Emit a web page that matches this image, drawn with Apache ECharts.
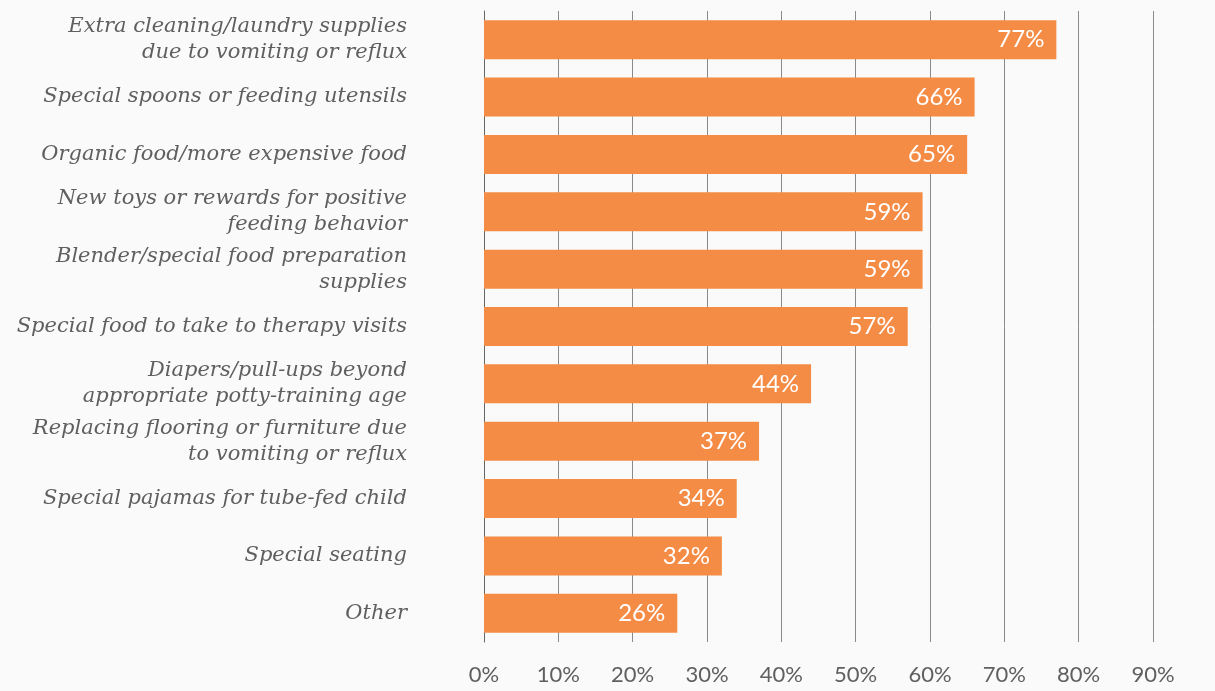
<!DOCTYPE html>
<html>
<head>
<meta charset="utf-8">
<script src="https://cdn.jsdelivr.net/npm/echarts@6/dist/echarts.min.js"></script>
<style>
  html, body { margin: 0; padding: 0; background: #f9faf9; }
  #chart { width: 1215px; height: 691px; }
</style>
</head>
<body>
<div id="chart"></div>
<script>
var categories = [
  'Extra cleaning/laundry supplies\ndue to vomiting or reflux',
  'Special spoons or feeding utensils',
  'Organic food/more expensive food',
  'New toys or rewards for positive\nfeeding behavior',
  'Blender/special food preparation\nsupplies',
  'Special food to take to therapy visits',
  'Diapers/pull-ups beyond\nappropriate potty-training age',
  'Replacing flooring or furniture due\nto vomiting or reflux',
  'Special pajamas for tube-fed child',
  'Special seating',
  'Other'
];
var values = [77, 66, 65, 59, 59, 57, 44, 37, 34, 32, 26];
var tickMax = 90;
var tickStep = 10;

var myChart = echarts.init(document.getElementById('chart'));
var option = {
  backgroundColor: '#f9faf9',
  animation: false,
  grid: {
    left: 484,
    right: 62,
    top: 11,
    bottom: 49
  },
  xAxis: {
    type: 'value',
    min: 0,
    max: tickMax,
    interval: tickStep,
    axisLine: { show: false },
    axisTick: { show: false },
    splitLine: { show: true, lineStyle: { color: '#8a8a8a', width: 1 } },
    axisLabel: {
      margin: 22,
      color: '#5f5f5f',
      fontSize: 22,
      fontFamily: 'Lato',
      formatter: '{value}%'
    }
  },
  yAxis: {
    type: 'category',
    inverse: true,
    data: categories,
    axisLine: { show: true, lineStyle: { color: '#666', width: 1 } },
    axisTick: { show: false },
    axisLabel: {
      margin: 77,
      color: '#5f5f5f',
      fontSize: 21,
      fontStyle: 'italic',
      fontFamily: 'DejaVu Serif',
      lineHeight: 26,
      align: 'right'
    }
  },
  series: [
    {
      type: 'bar',
      data: values,
      barWidth: 39,
      itemStyle: { color: '#f58c45' },
      label: {
        show: true,
        position: 'insideRight',
        distance: 12,
        color: '#fff',
        fontSize: 24,
        fontFamily: 'Lato',
        formatter: '{c}%'
      }
    }
  ]
};
myChart.setOption(option);
window.addEventListener('resize', function () {
  myChart.resize();
});
</script>
</body>
</html>
